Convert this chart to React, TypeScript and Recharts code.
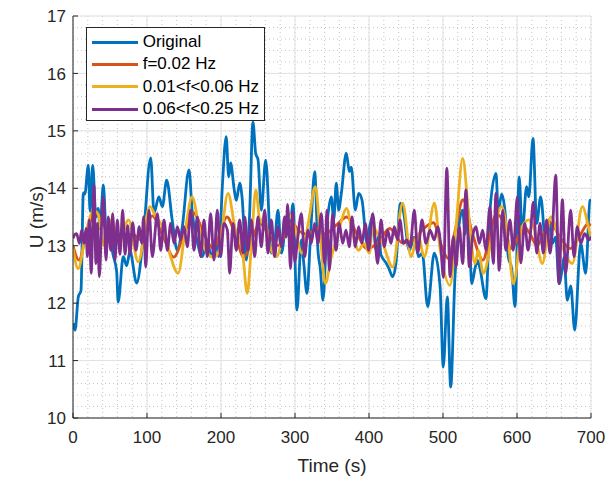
import React from 'react';
import { LineChart, Line, XAxis, YAxis, CartesianGrid, Legend } from 'recharts';

const ORIGINAL: [number, number][] = [
  [0, 11.65], [1.4, 11.59], [2.7, 11.53], [7.2, 12.11], [10.8, 12.22], [14, 13.92], [16, 13.9], [20.7, 14.4],
  [23, 13.6], [26.6, 14.4], [31, 13.5], [34, 13.65], [36.5, 13.3], [41, 14.06], [45.5, 13.04], [50, 13.15],
  [54, 12.85], [59, 12.55], [61, 12.02], [68, 12.81], [72.5, 12.65], [77, 12.9], [86, 12.35], [95, 13.15],
  [105, 14.53], [109.5, 13.57], [116, 13.85], [120.7, 13.68], [126.6, 14.14], [134, 13.45], [141, 12.92],
  [147.7, 13.33], [156.8, 14.32], [161, 13.6], [167.5, 13.1], [174.7, 12.81], [181, 13.05], [188, 12.81],
  [193, 13.1], [197, 12.81], [201.8, 14.03], [207, 14.9], [210.4, 14.2], [213, 14.44], [217.6, 14.0],
  [220.7, 13.79], [225.3, 14.09], [228.4, 13.85], [234.2, 12.75], [238.5, 13.5], [243.2, 15.15], [246.9, 14.6],
  [250, 14.5], [254.5, 13.62], [260.4, 14.49], [268, 12.87], [272.5, 13.05], [277, 13.62], [281.5, 12.87],
  [289.6, 13.5], [292.8, 13.25], [297.3, 13.73], [302.7, 11.88], [308.5, 13.1], [311.8, 12.7], [316.2, 12.17],
  [320.7, 13.1], [326.6, 14.29], [331, 12.92], [334.2, 12.6], [337.8, 12.05], [343.2, 13.33], [349, 13.85],
  [352.3, 13.45], [355.8, 14.09], [359, 13.62], [362.6, 13.91], [369.3, 14.61], [373.4, 14.29], [376, 14.37],
  [381.5, 13.62], [386, 13.91], [390.5, 13.8], [397.3, 13.04], [400.4, 13.3], [405, 13.5], [409.5, 12.92],
  [413.5, 13.2], [416, 12.85], [423, 12.7], [427, 12.6], [432, 12.46], [436.5, 12.7], [442.3, 13.74],
  [446.4, 13.6], [454.5, 12.92], [461.2, 13.15], [467, 12.81], [472, 12.87], [479.3, 11.94], [488.2, 12.87],
  [496, 12.3], [500.4, 10.89], [505.8, 12.11], [510.4, 10.54], [516.2, 12.46], [526.6, 13.62], [529.7, 13.2],
  [532.8, 13.7], [536, 13.1], [538.8, 12.34], [543.2, 12.6], [546.4, 12.75], [550, 12.6], [558, 12.08],
  [563.5, 13.62], [571.6, 14.26], [574.7, 13.6], [579.3, 13.9], [583.8, 13.6], [588.2, 12.81], [592.8, 12.6],
  [597.3, 11.94], [603, 14.2], [607, 13.21], [613, 14.03], [616, 13.85], [621.6, 14.87], [626.6, 13.39],
  [632, 13.85], [638.8, 13.04], [643.2, 13.45], [647.7, 13.04], [652.3, 13.15], [656.8, 12.34], [661.2, 12.6],
  [663.5, 12.8], [668, 12.05], [672.6, 12.3], [678, 11.53], [686, 13.04], [692.8, 12.52], [698.6, 13.79], [700, 13.8],
];

const F002: [number, number][] = [
  [0, 13.0], [8, 12.75], [18, 13.2], [30, 13.58], [42, 13.35], [55, 13.15], [68, 13.18], [80, 13.2], [92, 13.1],
  [107, 13.52], [122, 13.15], [136, 12.8], [150, 13.2], [163, 13.57], [177, 13.2], [190, 12.95], [198, 13.2],
  [208, 13.5], [219, 13.2], [231, 12.8], [242, 13.1], [252, 13.4], [264, 13.2], [277, 13.0], [287, 13.2],
  [296, 13.4], [306, 13.25], [318, 13.2], [330, 13.3], [340, 13.2], [355, 13.35], [370, 13.5], [384, 13.2],
  [397, 12.95], [412, 13.05], [428, 13.3], [445, 13.05], [460, 13.1], [474, 13.3], [487, 13.4], [498, 13.0],
  [507, 12.78], [517, 13.3], [527, 13.8], [540, 13.2], [554, 12.75], [562, 13.1], [572, 13.55], [582, 13.4],
  [592, 12.95], [600, 13.1], [608, 13.35], [618, 13.2], [627, 13.0], [636, 13.2], [645, 13.4], [658, 13.15],
  [672, 12.95], [684, 13.15], [696, 13.38], [700, 13.35],
];

const F001_006: [number, number][] = [
  [0, 12.95], [7, 12.6], [17, 13.2], [28, 13.62], [34, 13.55], [42, 13.0], [52, 13.45], [62, 13.05], [75, 13.45],
  [88, 12.72], [104, 13.68], [112, 13.5], [122, 13.3], [131, 12.85], [142, 12.52], [152, 13.3], [161, 13.85],
  [170, 13.35], [180, 12.9], [190, 12.8], [197, 12.9], [209.5, 13.91], [219, 13.3], [229, 12.9], [235.5, 12.17],
  [241, 13.0], [247, 13.97], [253, 13.4], [258, 13.5], [266, 13.0], [275, 12.81], [284, 13.2], [290.5, 13.56],
  [298, 13.4], [309.5, 12.87], [318, 13.4], [327.5, 14.03], [334, 13.2], [341, 12.34], [349, 12.8], [354.5, 13.04],
  [362, 13.4], [369.4, 13.65], [378, 13.2], [386, 12.92], [393, 13.04], [400.5, 12.87], [405, 13.33], [412, 13.2],
  [418.5, 13.04], [432, 12.63], [445.5, 13.74], [456.8, 12.81], [465.8, 13.2], [474.8, 12.81], [488.3, 13.74],
  [496, 12.95], [509.5, 12.31], [518, 13.4], [526.6, 14.52], [535, 13.5], [543.2, 12.69], [547.7, 12.92],
  [554.5, 12.52], [567, 13.2], [579.3, 13.68], [588, 13.1], [595, 12.34], [607, 13.33], [616, 13.45], [623, 13.3],
  [634.2, 12.69], [645.5, 13.5], [659, 13.04], [674.8, 12.69], [688.3, 13.68], [698.6, 13.21], [700, 13.15],
];

const F006_025: [number, number][] = [
  [0, 13.13], [3, 13.2], [5, 13.21], [8.6, 13.04], [11.7, 13.27], [14.9, 13.04], [17.6, 13.3], [19.4, 12.81],
  [22, 13.45], [24.5, 12.52], [28.4, 14.05], [31, 12.69], [33, 13.39], [35.6, 12.46], [38.7, 13.39], [41, 13.85],
  [44.6, 12.75], [47.7, 13.5], [50.9, 12.92], [53.6, 13.56], [56.8, 12.75], [59.9, 13.45], [63.5, 12.85],
  [67.1, 13.62], [70.3, 12.85], [73.9, 13.35], [77, 12.85], [80.6, 13.4], [85.1, 12.92], [89.6, 13.33],
  [92.8, 13.04], [95.5, 13.5], [98.2, 12.63], [102.7, 13.62], [107.2, 12.81], [114, 13.56], [118.5, 12.92],
  [123, 13.45], [127.5, 12.92], [132, 13.39], [136.5, 13.04], [141, 13.33], [145.5, 13.1], [150, 13.33],
  [154.5, 12.98], [159, 13.62], [163.5, 12.92], [168, 13.5], [172.5, 12.81], [177, 13.45], [181.5, 12.81],
  [186, 13.56], [190.5, 12.75], [195, 13.62], [199.5, 12.81], [204, 13.39], [208.6, 13.27], [211.7, 12.52],
  [216.2, 13.39], [220.7, 12.92], [225.2, 13.45], [229.7, 12.87], [232, 13.5], [236.5, 12.92], [241, 13.45],
  [245.5, 12.81], [250, 13.5], [254.5, 12.98], [259, 13.62], [263.5, 12.87], [268, 13.45], [272.5, 12.81],
  [277, 13.33], [281.5, 12.98], [286, 13.5], [288, 13.15], [290, 13.72], [294, 12.6], [297, 13.6], [299.5, 12.72],
  [304, 13.16], [308.6, 13.56], [313, 12.81], [317.6, 13.27], [322, 13.04], [326.6, 13.39], [331, 13.04],
  [335.6, 13.56], [340, 12.69], [343.2, 13.62], [346.4, 12.57], [350.9, 13.56], [355.4, 12.92], [359.9, 13.39],
  [364.4, 13.04], [368.9, 13.27], [373.4, 12.98], [377, 13.5], [381.5, 12.98], [386, 13.33], [390.5, 13.04],
  [395, 13.39], [399.5, 12.92], [405, 13.56], [411.7, 12.69], [416.2, 13.45], [420.7, 12.98], [425.2, 13.27],
  [429.7, 13.04], [434.2, 13.33], [438.7, 13.1], [441.9, 13.45], [446.4, 13.04], [450.9, 13.1], [455.4, 12.98],
  [461.3, 13.62], [465.8, 12.87], [471.6, 13.45], [477, 13.04], [482.4, 13.27], [488.3, 13.1], [492.8, 13.33],
  [497, 13.0], [500.5, 12.45], [505.2, 14.35], [509.5, 12.46], [514, 13.16], [517.6, 12.63], [522, 13.33],
  [526.6, 12.69], [531, 13.97], [535.6, 12.63], [540, 13.16], [544.6, 13.33], [549, 13.04], [553.6, 13.27],
  [558, 12.92], [563.5, 13.68], [568, 12.69], [571.6, 13.91], [576, 12.57], [580.6, 13.62], [585, 12.92],
  [590.5, 13.45], [595, 12.92], [600.5, 13.85], [605, 12.7], [610.4, 13.39], [614.9, 12.92], [618, 13.2],
  [622.1, 13.76], [626.6, 12.87], [631.1, 13.39], [635.6, 12.87], [640.1, 13.45], [644.6, 12.87], [648, 13.3],
  [652.3, 14.23], [656.8, 12.34], [661.3, 13.8], [665.8, 12.52], [672.5, 13.62], [677, 12.81], [681.5, 13.33],
  [686, 13.04], [691.4, 13.21], [697.3, 13.1], [700, 13.16],
];

const X_TICKS = [0, 100, 200, 300, 400, 500, 600, 700];
const Y_TICKS = [10, 11, 12, 13, 14, 15, 16, 17];
const X_MINOR = Array.from({ length: 36 }, (_, i) => i * 20);
const Y_MINOR = Array.from({ length: 36 }, (_, i) => Math.round((10 + i * 0.2) * 10) / 10);

const SERIES = [
  { name: 'Original', color: '#0072BD', data: ORIGINAL },
  { name: 'f=0.02 Hz', color: '#D95319', data: F002 },
  { name: '0.01<f<0.06 Hz', color: '#EDB120', data: F001_006 },
  { name: '0.06<f<0.25 Hz', color: '#7E2F8E', data: F006_025 },
];

const FONT = '"Liberation Sans", Arial, Helvetica, sans-serif';
const AXIS = '#262626';
const TICK_LEN = 5;

const toRows = (pairs: [number, number][]) => pairs.map(([t, v]) => ({ t, v }));

const XTickBottom = (props: any) => {
  const { x, y, payload } = props;
  return (
    <g>
      <line x1={x} y1={y} x2={x} y2={y - TICK_LEN} stroke={AXIS} strokeWidth={1} />
      <text x={x} y={y + 25} textAnchor="middle" fill={AXIS} fontSize={17} fontFamily={FONT}>
        {payload.value}
      </text>
    </g>
  );
};
const XTickTop = (props: any) => {
  const { x, y } = props;
  return <line x1={x} y1={y} x2={x} y2={y + TICK_LEN} stroke={AXIS} strokeWidth={1} />;
};
const YTickLeft = (props: any) => {
  const { x, y, payload } = props;
  return (
    <g>
      <line x1={x} y1={y} x2={x + TICK_LEN} y2={y} stroke={AXIS} strokeWidth={1} />
      <text x={x - 7} y={y} dy="0.36em" textAnchor="end" fill={AXIS} fontSize={17} fontFamily={FONT}>
        {payload.value}
      </text>
    </g>
  );
};
const YTickRight = (props: any) => {
  const { x, y } = props;
  return <line x1={x} y1={y} x2={x - TICK_LEN} y2={y} stroke={AXIS} strokeWidth={1} />;
};

const XLabel = () => (
  <text x={332} y={472} textAnchor="middle" fill={AXIS} fontSize={19} fontFamily={FONT}>
    Time (s)
  </text>
);
const YLabel = () => (
  <text x={43} y={217} transform="rotate(-90 43 217)" textAnchor="middle" fill={AXIS} fontSize={19} fontFamily={FONT}>
    U (m/s)
  </text>
);

const LegendBox = () => (
  <div
    style={{
      width: 179,
      height: 94,
      boxSizing: 'border-box',
      border: '1px solid #262626',
      background: '#fff',
      paddingTop: 3,
      fontFamily: FONT,
      fontSize: 17,
      color: '#000',
    }}
  >
    {SERIES.map((s) => (
      <div key={s.name} style={{ display: 'flex', alignItems: 'center', height: 22.3 }}>
        <div style={{ marginLeft: 4.7, width: 46.6, height: 3, background: s.color, flex: 'none' }} />
        <span style={{ marginLeft: 4.4, whiteSpace: 'nowrap', lineHeight: '22px' }}>{s.name}</span>
      </div>
    ))}
  </div>
);

export default function App() {
  return (
    <div style={{ position: 'absolute', left: 0, top: 0, width: 616, height: 477, background: '#fff' }}>
      <LineChart width={616} height={477} margin={{ top: 16, right: 25, bottom: 0, left: 0 }}>
        <CartesianGrid
          verticalValues={X_MINOR}
          horizontalValues={Y_MINOR}
          stroke="#c4c4c4"
          strokeDasharray="1 3"
          strokeWidth={1}
        />
        <CartesianGrid verticalValues={X_TICKS} horizontalValues={Y_TICKS} stroke="#e2e2e2" strokeWidth={1} />
        <XAxis
          dataKey="t"
          type="number"
          domain={[0, 700]}
          ticks={X_TICKS}
          interval={0}
          allowDataOverflow
          height={59}
          tickSize={0}
          tickMargin={0}
          tickLine={false}
          tick={XTickBottom}
          axisLine={{ stroke: AXIS, strokeWidth: 1 }}
          label={<XLabel />}
        />
        <YAxis
          type="number"
          domain={[10, 17]}
          ticks={Y_TICKS}
          interval={0}
          allowDataOverflow
          width={73}
          tickSize={0}
          tickMargin={0}
          tickLine={false}
          tick={YTickLeft}
          axisLine={{ stroke: AXIS, strokeWidth: 1 }}
          label={<YLabel />}
        />
        <XAxis
          xAxisId="top"
          orientation="top"
          type="number"
          domain={[0, 700]}
          ticks={X_TICKS}
          interval={0}
          allowDataOverflow
          height={0}
          tickSize={0}
          tickMargin={0}
          tickLine={false}
          tick={XTickTop}
          axisLine={{ stroke: AXIS, strokeWidth: 1 }}
        />
        <YAxis
          yAxisId="right"
          orientation="right"
          type="number"
          domain={[10, 17]}
          ticks={Y_TICKS}
          interval={0}
          allowDataOverflow
          width={0}
          tickSize={0}
          tickMargin={0}
          tickLine={false}
          tick={YTickRight}
          axisLine={{ stroke: AXIS, strokeWidth: 1 }}
        />
        {SERIES.map((s) => (
          <Line
            key={s.name}
            data={toRows(s.data)}
            dataKey="v"
            name={s.name}
            type="monotone"
            stroke={s.color}
            strokeWidth={2.8}
            dot={false}
            activeDot={false}
            isAnimationActive={false}
            strokeLinejoin="round"
          />
        ))}
        <Legend
          layout="horizontal"
          verticalAlign="middle"
          align="center"
          wrapperStyle={{ left: 86, top: 27, width: 179 }}
          content={<LegendBox />}
        />
      </LineChart>
    </div>
  );
}
